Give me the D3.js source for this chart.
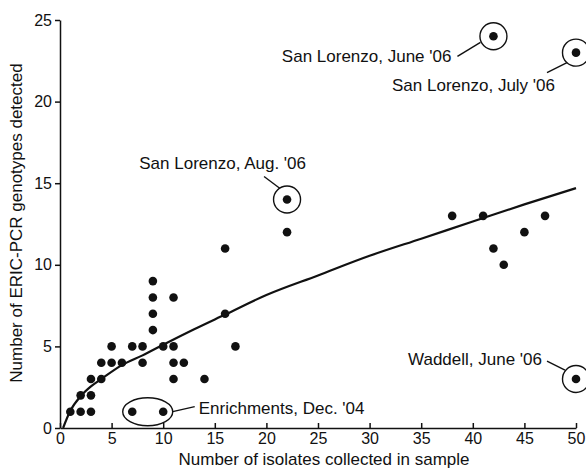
<!DOCTYPE html>
<html>
<head>
<meta charset="utf-8">
<script src="https://cdn.jsdelivr.net/npm/d3@7"></script>
<style>
  html, body { margin: 0; padding: 0; background: #fff; }
  text { font-family: "Liberation Sans", Arial, Helvetica, sans-serif; fill: #111; }
</style>
</head>
<body>
<div id="chart"></div>
<script>
// isolates collected (x) vs genotypes detected (y)
const isolates = [1, 2, 2, 3, 3, 3, 4, 4, 5, 5, 6, 7, 7, 8, 8, 9, 9, 9, 9, 10, 10,
  11, 11, 11, 11, 12, 14, 16, 16, 17, 22, 22, 38, 41, 42, 43, 45, 47, 42, 50, 50]
const genotypes = [1, 2, 1, 3, 2, 1, 4, 3, 5, 4, 4, 5, 1, 5, 4, 9, 8, 7, 6, 5, 1,
  8, 5, 4, 3, 4, 3, 11, 7, 5, 14, 12, 13, 13, 11, 10, 12, 13, 24, 23, 3]

// fitted curve
const curveX = [0.3, 1, 2, 3, 4, 6, 8, 10, 13, 16, 20, 25, 30, 35, 40, 45, 50]
const curveY = [0, 1.05, 1.95, 2.55, 3.0, 3.85, 4.45, 5.1, 6.05, 6.95, 8.15, 9.35, 10.55, 11.6, 12.65, 13.7, 14.7]

const xTicks = [0, 5, 10, 15, 20, 25, 30, 35, 40, 45, 50]
const yTicks = [0, 5, 10, 15, 20, 25]

// circled samples
const noteLabels = ["San Lorenzo, June '06", "San Lorenzo, July '06", "San Lorenzo, Aug. '06", "Waddell, June '06"]
const noteX = [42, 50, 22, 50]
const noteY = [24, 23, 14, 3]
// label placement relative to the circled point: [text x, text y, anchor, line x1, y1, x2, y2]
const noteLayout = [
  [-42, 26, 'end', -36, 20, -13, 6],
  [-21, 38, 'end', -29, 20, -9, 10],
  [19, -31, 'end', -23, -23, -7, -11],
  [-34, -14, 'end', -29, -18, -11, -9]
]

const enrichLabel = "Enrichments, Dec. '04"
const enrichX = [7, 10]
const enrichY = [1, 1]

const width = 586, height = 472
const svg = d3.select('#chart').append('svg')
  .attr('width', width)
  .attr('height', height)

const xScale = d3.scaleLinear().domain([0, 50]).range([60, 576])
const yScale = d3.scaleLinear().domain([0, 25]).range([428, 20])

// axes
const xAxis = svg.append('g')
  .attr('transform', `translate(0,${yScale(0)})`)
  .call(d3.axisBottom(xScale).tickValues(xTicks).tickSize(-5).tickSizeOuter(0).tickPadding(5))
const yAxis = svg.append('g')
  .attr('transform', `translate(${xScale(0)},0)`)
  .call(d3.axisLeft(yScale).tickValues(yTicks).tickSize(5).tickSizeOuter(0).tickPadding(3))
;[xAxis, yAxis].forEach(g => {
  g.selectAll('path, line').attr('stroke', '#111').attr('stroke-width', 1.5)
  g.selectAll('text').attr('font-size', 16).attr('fill', '#111')
    .style('font-family', '"Liberation Sans", Arial, sans-serif')
})

svg.append('text')
  .attr('x', 324).attr('y', 465)
  .attr('text-anchor', 'middle')
  .attr('font-size', 17)
  .text('Number of isolates collected in sample')
svg.append('text')
  .attr('transform', 'translate(22,223) rotate(-90)')
  .attr('text-anchor', 'middle')
  .attr('font-size', 17)
  .text('Number of ERIC-PCR genotypes detected')

// fitted curve
const line = d3.line()
  .x(d => xScale(d[0]))
  .y(d => yScale(d[1]))
  .curve(d3.curveMonotoneX)
svg.append('path')
  .datum(curveX.map((x, i) => [x, curveY[i]]))
  .attr('d', line)
  .attr('fill', 'none')
  .attr('stroke', '#111')
  .attr('stroke-width', 2.2)

// points
svg.selectAll('circle.pt')
  .data(isolates.map((x, i) => ({x, y: genotypes[i]})))
  .enter().append('circle')
  .attr('class', 'pt')
  .attr('cx', d => xScale(d.x))
  .attr('cy', d => yScale(d.y))
  .attr('r', 4.3)
  .attr('fill', '#111')

// circled samples with labels
noteLabels.forEach((label, i) => {
  const cx = xScale(noteX[i]), cy = yScale(noteY[i])
  const l = noteLayout[i]
  svg.append('circle')
    .attr('cx', cx).attr('cy', cy).attr('r', 13.5)
    .attr('fill', 'none').attr('stroke', '#111').attr('stroke-width', 1.4)
  svg.append('line')
    .attr('x1', cx + l[3]).attr('y1', cy + l[4])
    .attr('x2', cx + l[5]).attr('y2', cy + l[6])
    .attr('stroke', '#111').attr('stroke-width', 1.4)
  svg.append('text')
    .attr('x', cx + l[0]).attr('y', cy + l[1])
    .attr('text-anchor', l[2])
    .attr('font-size', 17)
    .text(label)
})

// enrichments ellipse
const ex = (xScale(enrichX[0]) + xScale(enrichX[1])) / 2
const ey = yScale(enrichY[0])
svg.append('ellipse')
  .attr('cx', ex).attr('cy', ey)
  .attr('rx', 25).attr('ry', 14)
  .attr('fill', 'none').attr('stroke', '#111').attr('stroke-width', 1.4)
svg.append('line')
  .attr('x1', ex + 25).attr('y1', ey)
  .attr('x2', ex + 47).attr('y2', ey - 5)
  .attr('stroke', '#111').attr('stroke-width', 1.4)
svg.append('text')
  .attr('x', ex + 51).attr('y', ey + 2)
  .attr('font-size', 17)
  .text(enrichLabel)
</script>
</body>
</html>
